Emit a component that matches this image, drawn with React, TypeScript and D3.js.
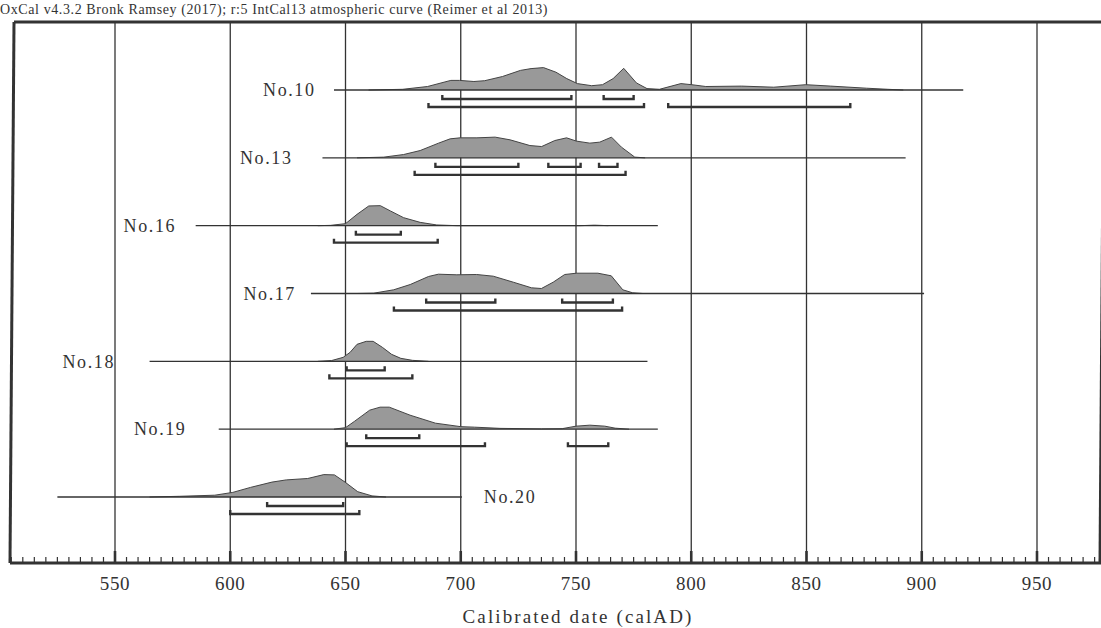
import React from "react";
import * as d3 from "d3";

const W = 1101;
const H = 628;

const HEADER = "OxCal v4.3.2 Bronk Ramsey (2017); r:5 IntCal13 atmospheric curve (Reimer et al 2013)";
const AXIS_TITLE = "Calibrated date (calAD)";
const TICK_LABELS = [550, 600, 650, 700, 750, 800, 850, 900, 950];

const samples = ["No.10", "No.13", "No.16", "No.17", "No.18", "No.19", "No.20"];

// full extent of each sample's horizontal line (calAD)
const lineExtent: [number, number][] = [
  [645, 918], [640, 893], [585, 785.5], [635, 901], [565, 781], [595, 785.5], [525, 700.5],
];

// label anchor year and side
const labelAt: number[] = [637, 627, 576.5, 628.5, 550, 581, 710];
const labelSide: ("left" | "right")[] = ["left", "left", "left", "left", "left", "left", "right"];

// 68.2% ranges
const range68: [number, number][][] = [
  [[692, 748], [762, 775]],
  [[689, 725], [738, 752], [760, 768]],
  [[654.5, 674]],
  [[685, 715], [744, 766]],
  [[650.5, 667]],
  [[659, 682]],
  [[616, 649]],
];

// 95.4% ranges
const range95: [number, number][][] = [
  [[686, 779.5], [790, 869]],
  [[680, 771.5]],
  [[645, 690]],
  [[671, 770]],
  [[643, 679]],
  [[650.5, 710.5], [746.5, 764]],
  [[600, 656]],
];

// posterior density curves: [calAD, relative probability]
const dens10: [number, number][] = [
  [660, 0], [674.8, 0.7], [685.6, 3.5], [695.7, 9.6], [699.5, 9.6], [705.7, 8.5], [710.4, 9.3],
  [718.1, 13.5], [725.9, 19.6], [730.5, 21.4], [735.9, 22.4], [741.3, 17.8], [746, 11.4],
  [750.6, 6.4], [756.8, 4.3], [761.5, 5.3], [766.1, 11.4], [770.7, 21.7], [776.2, 7.1],
  [780.8, 1.4], [786.2, 0.7], [795.5, 6.4], [800.2, 5.3], [806.3, 3.5], [821.8, 3.9],
  [835.8, 2.8], [849.7, 5.3], [860.5, 3.9], [876, 1.8], [885.3, 0.7], [892, 0],
];
const dens13: [number, number][] = [
  [655, 0], [666.6, 0.7], [675.2, 3.3], [682.4, 7.3], [690.4, 14.7], [695.4, 19], [699.7, 20],
  [707, 20], [714.9, 20.7], [721.4, 18], [730, 12.3], [735.1, 11.3], [740.8, 17.3],
  [745.9, 20], [750.2, 16.7], [756, 14.7], [760.3, 15.7], [765.4, 20.7], [769.7, 10.7],
  [775.5, 0.7], [780, 0],
];
const dens16: [number, number][] = [
  [638, 0], [643.5, 0.3], [650, 2], [655, 11.3], [660.1, 19.7], [665.1, 20], [669.5, 14.7],
  [675.2, 8], [682.4, 3.3], [689.6, 0.7], [698.3, 0], [752, 0], [758, 0.5], [764, 0],
];
const dens17: [number, number][] = [
  [655, 0], [662.2, 0.3], [670.9, 3.7], [678.1, 9], [686, 17], [690.3, 19.3], [698.3, 18.7],
  [706.9, 19], [714.1, 17.3], [722.8, 11.3], [730.7, 5.7], [735, 5], [740.1, 11.3],
  [745.1, 19], [750.2, 20.3], [759.5, 20.3], [765.3, 17.7], [770.3, 3.7], [774.6, 0.7], [779, 0],
];
const dens18: [number, number][] = [
  [638, 0], [644, 0.8], [649, 4], [652, 9], [655, 17], [659, 20], [662, 20], [666, 14],
  [670, 7], [674, 3], [679, 1], [686, 0],
];
const dens19: [number, number][] = [
  [645, 0], [650, 1.5], [654, 8], [660.5, 19], [665, 22], [669, 22], [678, 14], [689, 6],
  [700, 2.5], [706, 2], [717, 0.8], [735, 0.3], [744, 0.5], [750, 3], [756, 4], [762.5, 3],
  [767, 1], [773, 0],
];
const dens20: [number, number][] = [
  [565, 0], [577.9, 0.7], [593.3, 1.8], [601.1, 4.6], [608.8, 9.6], [618.1, 14.9],
  [624.3, 17.1], [633.6, 18.5], [640.6, 22.4], [645.2, 22.1], [649.8, 14.9], [655.3, 5.3],
  [661.5, 1.1], [667.6, 0],
];
const densities = [dens10, dens13, dens16, dens17, dens18, dens19, dens20];

const FONT = "'Liberation Serif', 'Times New Roman', serif";
const INK = "#333";

export default function App() {
  const x = d3.scaleLinear().domain([550, 950]).range([115, 1037]);
  const row = d3.scalePoint<string>().domain(samples).range([90, 497]);
  const dy = d3.scaleLinear().domain([0, 22]).range([0, 22]);

  const top = 22;
  const bottom = 563;
  const leftTop = 14, leftBot = 10;
  const rightTop = 1104, rightBot = 1100;

  const minor = d3.range(505, 980, 5).filter((v) => v % 50 !== 0);

  return (
    <svg width={W} height={H} style={{ display: "block", position: "absolute", left: 0, top: 0 }}
      viewBox={`0 0 ${W} ${H}`}>
      <rect x={0} y={0} width={W} height={H} fill="#fff" />
      <text x={0} y={14} fontFamily={FONT} fontSize={14} letterSpacing={0.6} fill={INK}>{HEADER}</text>

      {/* gridlines */}
      {TICK_LABELS.map((t) => (
        <line key={"g" + t} x1={x(t)} x2={x(t)} y1={top} y2={bottom} stroke={INK} strokeWidth={1.3} />
      ))}

      {/* samples */}
      {samples.map((s, i) => {
        const y0 = row(s)!;
        const area = d3.area<[number, number]>()
          .x((d) => x(d[0]))
          .y0(y0)
          .y1((d) => y0 - dy(d[1]));
        const line = d3.line<[number, number]>()
          .x((d) => x(d[0]))
          .y((d) => y0 - dy(d[1]));
        const [a, b] = lineExtent[i];
        const lx = x(labelAt[i]);
        return (
          <g key={s}>
            <path d={area(densities[i])!} fill="#999" stroke="none" />
            <path d={line(densities[i])!} fill="none" stroke="#444" strokeWidth={1} />
            <line x1={x(a)} x2={x(b)} y1={y0} y2={y0} stroke={INK} strokeWidth={1.4} />
            <text x={lx} y={y0} dy="0.35em" textAnchor={labelSide[i] === "left" ? "end" : "start"}
              fontFamily={FONT} fontSize={18} letterSpacing={1.6} fill={INK}>{s}</text>
            {range68[i].map(([r0, r1], k) => (
              <path key={"a" + k}
                d={`M${x(r0)},${y0 + 5}V${y0 + 9}H${x(r1)}V${y0 + 5}`}
                fill="none" stroke={INK} strokeWidth={2.4} />
            ))}
            {range95[i].map(([r0, r1], k) => (
              <path key={"b" + k}
                d={`M${x(r0)},${y0 + 13}V${y0 + 17}H${x(r1)}V${y0 + 13}`}
                fill="none" stroke={INK} strokeWidth={2.4} />
            ))}
          </g>
        );
      })}

      {/* frame */}
      <line x1={leftTop} x2={rightTop} y1={top} y2={top} stroke={INK} strokeWidth={3} />
      <line x1={leftTop} x2={leftBot} y1={top} y2={bottom} stroke={INK} strokeWidth={3} />
      <line x1={rightTop} x2={rightBot} y1={top} y2={bottom} stroke={INK} strokeWidth={3} />
      <line x1={leftBot} x2={rightBot + 1} y1={bottom} y2={bottom} stroke={INK} strokeWidth={3} />

      {/* ticks */}
      {minor.map((t) => (
        <line key={"m" + t} x1={x(t)} x2={x(t)} y1={bottom} y2={bottom - 6} stroke={INK} strokeWidth={1.2} />
      ))}
      {TICK_LABELS.map((t) => (
        <g key={"t" + t}>
          <line x1={x(t)} x2={x(t)} y1={bottom} y2={bottom - 12} stroke={INK} strokeWidth={2.6} />
          <text x={x(t)} y={590} textAnchor="middle" fontFamily={FONT} fontSize={19} letterSpacing={0.6} fill={INK}>{t}</text>
        </g>
      ))}
      <text x={578} y={623} textAnchor="middle" fontFamily={FONT} fontSize={19} letterSpacing={2.1} fill={INK}>{AXIS_TITLE}</text>
    </svg>
  );
}
